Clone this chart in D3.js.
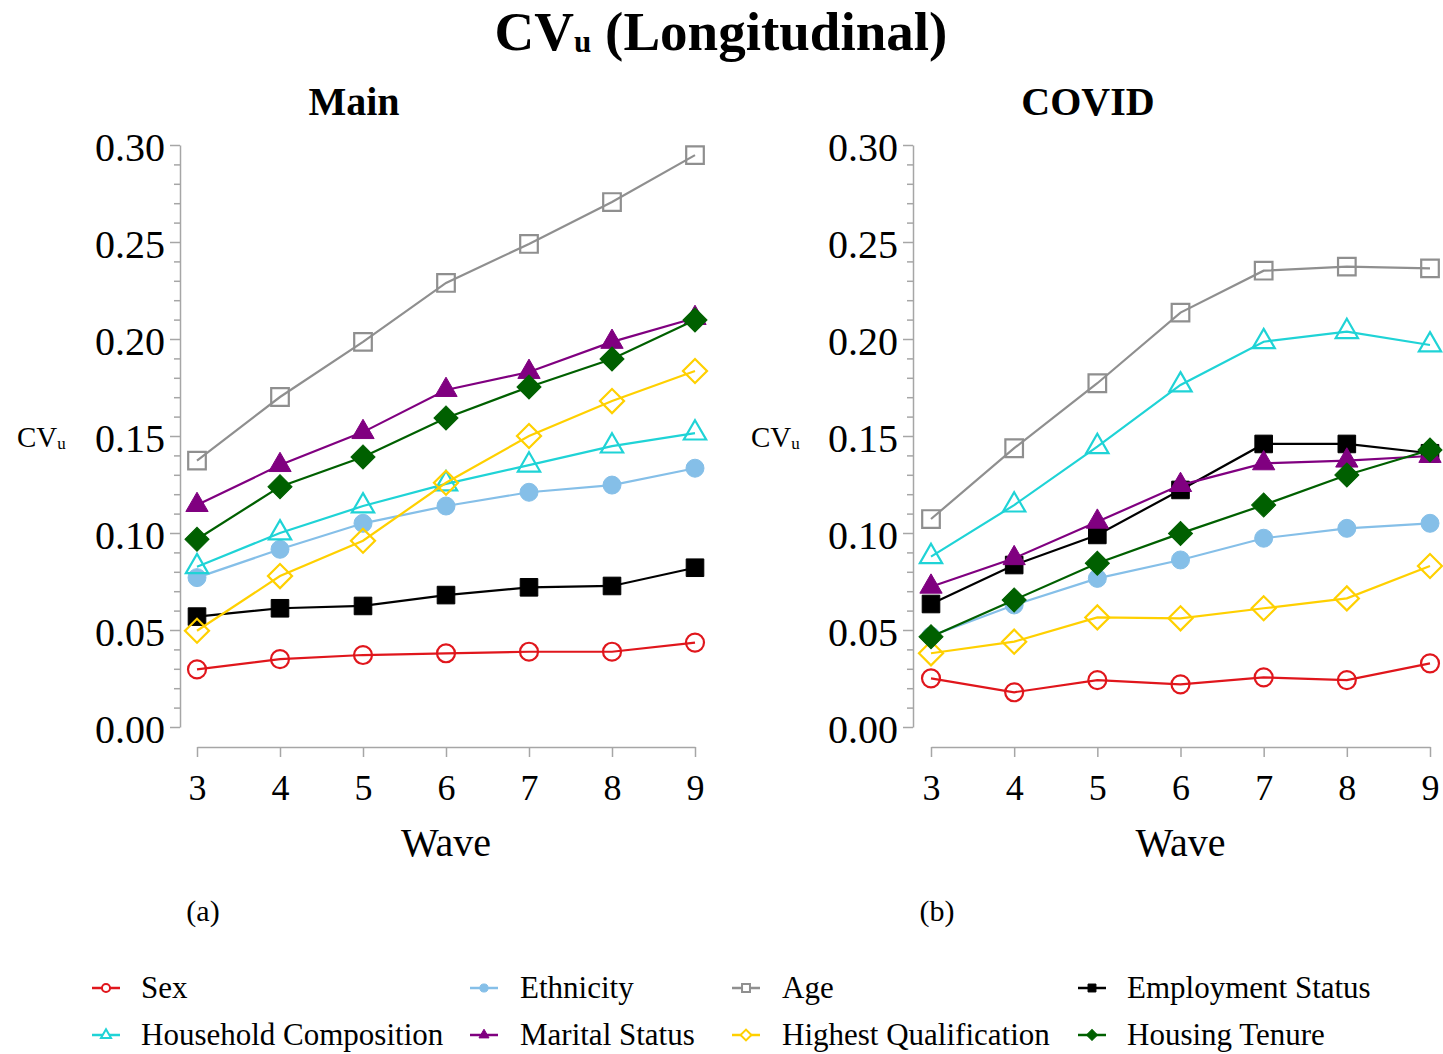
<!DOCTYPE html>
<html>
<head>
<meta charset="utf-8">
<script src="https://cdn.jsdelivr.net/npm/d3@7"></script>
<style>
  html, body { margin: 0; padding: 0; background: #fff; }
  svg { display: block; }
  text { font-family: "Liberation Serif", "Times New Roman", "DejaVu Serif", serif; fill: #000; }
</style>
</head>
<body>
<svg id="chart" width="1443" height="1054"></svg>
<script>
// ---------------- data ----------------
const waves = [3, 4, 5, 6, 7, 8, 9];
const seriesNames = ["Sex", "Ethnicity", "Age", "Employment Status",
  "Household Composition", "Marital Status", "Highest Qualification", "Housing Tenure"];
const yTickValues = [0.00, 0.05, 0.10, 0.15, 0.20, 0.25, 0.30];
const panelTitles = ["Main", "COVID"];
const panelLetters = ["(a)", "(b)"];

// Main panel values (CVu by wave)
const mainSex           = [0.0297, 0.0350, 0.0371, 0.0380, 0.0388, 0.0388, 0.0435];
const mainEthnicity     = [0.0770, 0.0916, 0.1050, 0.1139, 0.1210, 0.1247, 0.1334];
const mainAge           = [0.1373, 0.1701, 0.1985, 0.2289, 0.2490, 0.2706, 0.2948];
const mainEmployment    = [0.0569, 0.0612, 0.0624, 0.0680, 0.0720, 0.0727, 0.0821];
const mainHousehold     = [0.0826, 0.1000, 0.1139, 0.1253, 0.1350, 0.1448, 0.1515];
const mainMarital       = [0.1144, 0.1350, 0.1520, 0.1737, 0.1830, 0.1985, 0.2108];
const mainQualification = [0.0496, 0.0778, 0.0960, 0.1259, 0.1500, 0.1680, 0.1835];
const mainTenure        = [0.0968, 0.1239, 0.1392, 0.1593, 0.1753, 0.1897, 0.2098];

// COVID panel values (CVu by wave)
const covidSex           = [0.0251, 0.0179, 0.0242, 0.0220, 0.0256, 0.0242, 0.0328];
const covidEthnicity     = [0.0469, 0.0629, 0.0766, 0.0861, 0.0973, 0.1024, 0.1050];
const covidAge           = [0.1072, 0.1437, 0.1772, 0.2136, 0.2352, 0.2373, 0.2364];
const covidEmployment    = [0.0634, 0.0835, 0.0990, 0.1222, 0.1459, 0.1459, 0.1411];
const covidHousehold     = [0.0878, 0.1144, 0.1445, 0.1763, 0.1986, 0.2038, 0.1969];
const covidMarital       = [0.0723, 0.0870, 0.1058, 0.1247, 0.1359, 0.1373, 0.1397];
const covidQualification = [0.0380, 0.0440, 0.0565, 0.0560, 0.0612, 0.0663, 0.0830];
const covidTenure        = [0.0465, 0.0655, 0.0844, 0.0998, 0.1144, 0.1299, 0.1428];

// ---------------- styles ----------------
const styles = {
  "Sex":                   { color: "#e0161c", shape: "circle",   filled: false },
  "Ethnicity":             { color: "#85bfe8", shape: "circle",   filled: true  },
  "Age":                   { color: "#8f8f8f", shape: "square",   filled: false },
  "Employment Status":     { color: "#000000", shape: "square",   filled: true  },
  "Household Composition": { color: "#1fd3d6", shape: "triangle", filled: false },
  "Marital Status":        { color: "#800080", shape: "triangle", filled: true  },
  "Highest Qualification": { color: "#ffd000", shape: "diamond",  filled: false },
  "Housing Tenure":        { color: "#006000", shape: "diamond",  filled: true  }
};

const panelsData = [
  [mainSex, mainEthnicity, mainAge, mainEmployment, mainHousehold, mainMarital, mainQualification, mainTenure],
  [covidSex, covidEthnicity, covidAge, covidEmployment, covidHousehold, covidMarital, covidQualification, covidTenure]
];

const svg = d3.select("#chart");
const axisColor = "#a6a6a6";

function symbolPath(shape, scale) {
  const s = scale || 1;
  if (shape === "circle") return d3.symbol(d3.symbolCircle, 254 * s * s)();
  if (shape === "square") return d3.symbol(d3.symbolSquare, 310 * s * s)();
  if (shape === "triangle") return d3.symbol(d3.symbolTriangle, 215 * s * s)();
  if (shape === "diamond") return d3.symbol(d3.symbolSquare, 290 * s * s)();
  return d3.symbol(d3.symbolCircle, 100)();
}

// ---------------- title ----------------
const title = svg.append("text")
  .attr("x", 721).attr("y", 50)
  .attr("text-anchor", "middle")
  .style("font-size", "55px").style("font-weight", "bold");
title.append("tspan").text("CV");
title.append("tspan").text("u").style("font-size", "31px").attr("dy", 2);
title.append("tspan").text(" (Longitudinal)").attr("dy", -2);

// ---------------- panels ----------------
const panelGeom = [
  { axisX: 180, xRange: [197, 695], titleX: 354, letterX: 203, ylabX: 17 },
  { axisX: 913, xRange: [931, 1430], titleX: 1088, letterX: 937, ylabX: 751 }
];
const yRange = [727, 145];
const xAxisY = 747;

panelGeom.forEach((g, pi) => {
  const x = d3.scaleLinear().domain([3, 9]).range(g.xRange);
  const y = d3.scaleLinear().domain([0, 0.3]).range(yRange);
  const panel = svg.append("g");

  // panel title
  panel.append("text")
    .attr("x", g.titleX).attr("y", 115)
    .attr("text-anchor", "middle")
    .style("font-size", "40px").style("font-weight", "bold")
    .text(panelTitles[pi]);

  // minor y ticks
  const minor = d3.range(0, 31).map(i => i / 100).filter(v => Math.round(v * 100) % 5 !== 0);
  const yMinor = panel.append("g").attr("transform", `translate(${g.axisX},0)`)
    .call(d3.axisLeft(y).tickValues(minor).tickSize(6).tickFormat(""));
  yMinor.select(".domain").remove();
  yMinor.selectAll("line").attr("stroke", axisColor).attr("stroke-width", 1.5);

  // major y axis
  const yAx = panel.append("g").attr("transform", `translate(${g.axisX},0)`)
    .call(d3.axisLeft(y).tickValues(yTickValues).tickSize(10).tickSizeOuter(0).tickPadding(5)
      .tickFormat(d3.format(".2f")));
  yAx.select(".domain").attr("stroke", axisColor).attr("stroke-width", 1.5);
  yAx.selectAll("line").attr("stroke", axisColor).attr("stroke-width", 1.5);
  yAx.selectAll("text").style("font-size", "40px").attr("dy", "0.38em")
    .style("font-family", '"Liberation Serif", "Times New Roman", serif').attr("fill", "#000");

  // x axis
  const xAx = panel.append("g").attr("transform", `translate(0,${xAxisY})`)
    .call(d3.axisBottom(x).tickValues(waves).tickSize(10).tickSizeOuter(0).tickPadding(17)
      .tickFormat(d3.format("d")));
  xAx.select(".domain").attr("stroke", axisColor).attr("stroke-width", 1.5);
  xAx.selectAll("line").attr("stroke", axisColor).attr("stroke-width", 1.5);
  xAx.selectAll("text").style("font-size", "36px")
    .style("font-family", '"Liberation Serif", "Times New Roman", serif').attr("fill", "#000");

  // axis titles
  const yl = panel.append("text").attr("x", g.ylabX).attr("y", 447).style("font-size", "29px");
  yl.append("tspan").text("CV");
  yl.append("tspan").text("u").style("font-size", "17px").attr("dy", 2);

  panel.append("text").attr("x", (g.xRange[0] + g.xRange[1]) / 2).attr("y", 856)
    .attr("text-anchor", "middle").style("font-size", "40px").text("Wave");

  panel.append("text").attr("x", g.letterX).attr("y", 921)
    .attr("text-anchor", "middle").style("font-size", "30px").text(panelLetters[pi]);

  // series
  const line = d3.line().x((d, i) => x(waves[i])).y(d => y(d));
  panelsData[pi].forEach((vals, si) => {
    const name = seriesNames[si];
    const st = styles[name];
    const gs = panel.append("g");
    gs.append("path").datum(vals).attr("d", line)
      .attr("fill", "none").attr("stroke", st.color).attr("stroke-width", 2.2);
    gs.selectAll("path.m").data(vals).enter().append("path").attr("class", "m")
      .attr("d", symbolPath(st.shape, 1))
      .attr("transform", (d, i) => `translate(${x(waves[i])},${y(d)})` + (st.shape === "diamond" ? " rotate(45)" : ""))
      .attr("fill", st.filled ? st.color : "none")
      .attr("stroke", st.color)
      .attr("stroke-width", st.filled ? 1 : 2.2);
  });
});

// ---------------- legend ----------------
const legCols = [{ sx: 106, tx: 141 }, { sx: 484, tx: 520 }, { sx: 746, tx: 782 }, { sx: 1092, tx: 1127 }];
const legRows = [988, 1035];
seriesNames.forEach((name, i) => {
  const col = legCols[i % 4], row = legRows[Math.floor(i / 4)];
  const st = styles[name];
  const lg = svg.append("g");
  lg.append("line").attr("x1", col.sx - 14).attr("x2", col.sx + 14).attr("y1", row).attr("y2", row)
    .attr("stroke", st.color).attr("stroke-width", 2.5);
  lg.append("path").attr("d", symbolPath(st.shape, 0.45))
    .attr("transform", `translate(${col.sx},${row})` + (st.shape === "diamond" ? " rotate(45)" : ""))
    .attr("fill", st.filled ? st.color : "#fff")
    .attr("stroke", st.color).attr("stroke-width", st.filled ? 1 : 2);
  lg.append("text").attr("x", col.tx).attr("y", row + 10).style("font-size", "31px").text(name);
});
</script>
</body>
</html>
